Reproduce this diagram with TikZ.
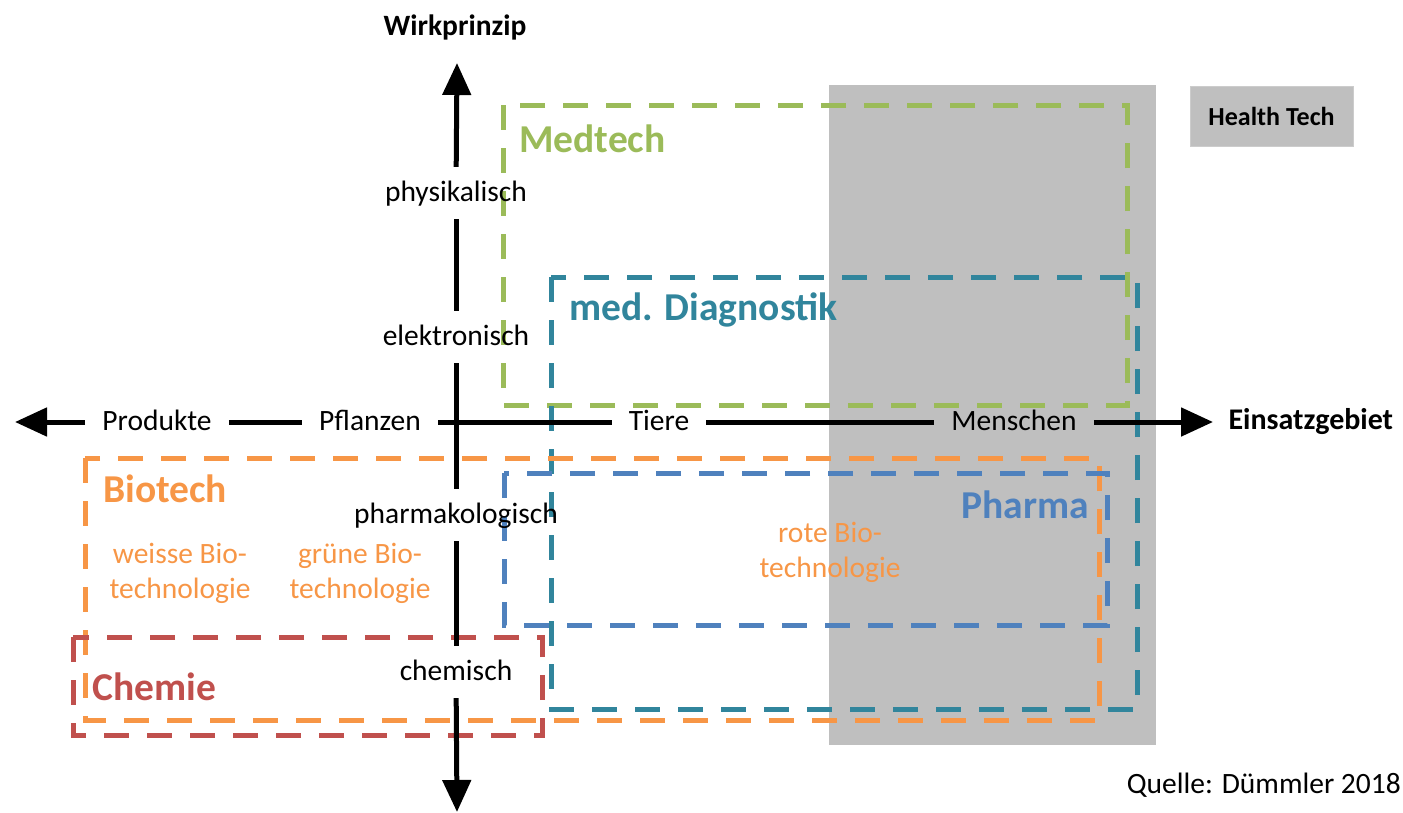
\documentclass[tikz,border=0pt]{standalone}
\usepackage{fontspec}
\setmainfont{Carlito}
\usetikzlibrary{arrows.meta,positioning}

\definecolor{htgray}{HTML}{BFBFBF}
\definecolor{medgreen}{HTML}{9BBB59}
\definecolor{diagteal}{HTML}{31859C}
\definecolor{bioorange}{HTML}{F79646}
\definecolor{pharmablue}{HTML}{4F81BD}
\definecolor{chemred}{HTML}{C0504D}

\tikzset{
	axis/.style={line width=5pt},
	axtip/.style={line width=5pt, -{Triangle[length=32pt,width=28pt]}},
	axlabel/.style={font=\fontsize{29.5}{34}\selectfont, inner xsep=17pt, inner ysep=12pt, text height=22pt, text depth=6pt},
	dbox/.style={line width=5pt, dash pattern=on 25pt off 18pt},
	boxtitle/.style={font=\fontsize{39.5}{44}\selectfont\bfseries, anchor=base west, inner sep=0pt},
	biotext/.style={font=\fontsize{29.5}{35}\selectfont, text=bioorange, align=center}
}

\begin{document}
\begin{tikzpicture}[x=1pt,y=-1pt]
				\useasboundingbox (0,0) rectangle (1403,812);
				% Health Tech area and legend
				\fill[htgray] (829,85) rectangle (1156,745);
				\node[fill=htgray, draw=htgray!80, minimum width=163pt, minimum height=60pt, font=\fontsize{26}{30}\selectfont\bfseries] (legend) at (1271.5,116) {Health Tech};

				% sectors
				\draw[dbox, medgreen] (503,105) rectangle (1127,405);
				\node[boxtitle, text=medgreen] (medtech) at (519,152.5) {Medtech};
				\draw[dbox, diagteal] (551,277) rectangle (1137,709);
				\node[boxtitle, text=diagteal] (diagnostik) at (569,320) {med. Diagnostik};
				\draw[dbox, bioorange] (85,458) rectangle (1099,720);
				\node[boxtitle, text=bioorange] (biotech) at (103,502) {Biotech};
				\draw[dbox, pharmablue] (504,473) rectangle (1107,625);
				\node[boxtitle, text=pharmablue, anchor=base east] (pharma) at (1089,518) {Pharma};
				\draw[dbox, chemred] (73,637) rectangle (542,735);
				\node[boxtitle, text=chemred] (chemie) at (92,700) {Chemie};

				\node[biotext] (weiss) at (180,573) {weisse Bio-\\technologie};
				\node[biotext] (gruen) at (360,573) {grüne Bio-\\technologie};
				\node[biotext] (rot) at (830,552) {rote Bio-\\technologie};

				% Einsatzgebiet
				\coordinate (lefttip) at (15,422);
				\coordinate (righttip) at (1213,422);
				\node[axlabel] (produkte) at (157,422) {Produkte};
				\node[axlabel] (pflanzen) at (370,422) {Pflanzen};
				\node[axlabel] (tiere) at (659,422) {Tiere};
				\node[axlabel] (menschen) at (1014,422) {Menschen};
				\draw[axtip] (produkte) -- (lefttip);
				\draw[axis] (produkte) -- (pflanzen);
				\draw[axis] (pflanzen) -- (tiere);
				\draw[axis] (tiere) -- (menschen);
				\draw[axtip] (menschen) -- (righttip);
				\node[font=\fontsize{30}{34}\selectfont\bfseries, right=12pt of righttip] (einsatz) {Einsatzgebiet};

				% Wirkprinzip
				\coordinate (toptip) at (457,63);
				\coordinate (bottomtip) at (457,812);
				\node[axlabel] (physik) at (456,193) {physikalisch};
				\node[axlabel] (elektro) at (456,337) {elektronisch};
				\node[axlabel] (pharmako) at (456,515) {pharmakologisch};
				\node[axlabel] (chemisch) at (456,672) {chemisch};
				\draw[axtip] (physik) -- (toptip);
				\draw[axis] (physik) -- (elektro);
				\draw[axis] (elektro) -- (pharmako);
				\draw[axis] (pharmako) -- (chemisch);
				\draw[axtip] (chemisch) -- (bottomtip);
				\node[font=\fontsize{29.5}{34}\selectfont\bfseries] (wirk) at (455,27) {Wirkprinzip};

				\node[font=\fontsize{29.5}{34}\selectfont, anchor=east, inner sep=0pt] (quelle) at (1401,785) {Quelle: Dümmler 2018};
	\end{tikzpicture}
\end{document}
